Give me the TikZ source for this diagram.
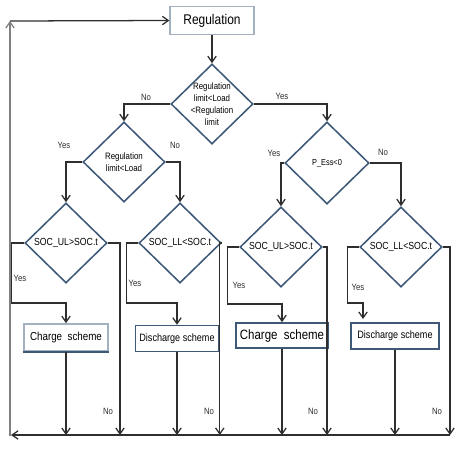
\documentclass[tikz,border=0pt]{standalone}
\usepackage{fontspec}
\setmainfont{Liberation Sans}[FakeStretch=0.85]
\usetikzlibrary{arrows.meta}
\usetikzlibrary{shapes.geometric}
\definecolor{boxline}{HTML}{3E5878}
\definecolor{regline}{HTML}{A3B0C0}
\definecolor{flowline}{HTML}{2E2E2E}

\begin{document}
\begin{tikzpicture}[x=0.025cm, y=-0.025cm,
    >={Straight Barb[length=1.5mm,width=2.1mm]},
    flow/.style={draw=flowline, line width=0.9pt},
    decision/.style={diamond, draw=boxline, line width=1.1pt, inner sep=0pt,
      minimum width=2.05cm, minimum height=2cm},
    scheme/.style={rectangle, draw=boxline, line width=1pt, inner sep=0pt,
      minimum height=0.65cm},
    answer/.style={font=\fontsize{6.5}{7.5}\selectfont, text=flowline}]
      \useasboundingbox (0, 0) rectangle (465, 455);

      % start box
      \node[rectangle, draw=regline, line width=0.8pt, minimum width=2.1cm, minimum height=0.68cm,
        font=\fontsize{10}{12}\selectfont] (reg) at (212, 20.5) {Regulation};

      % decisions
      \node[decision, label={[align=center, font=\fontsize{6.6}{8.5}\selectfont]center:Regulation\\limit<Load\\<Regulation\\limit}] (d0) at (212, 104) {};
      \node[decision, label={[align=center, font=\fontsize{6.6}{8.5}\selectfont]center:Regulation\\limit<Load}] (d1) at (124, 162) {};
      \node[decision, minimum width=2.1cm, minimum height=2.05cm, label={[font=\fontsize{6.2}{7}\selectfont]center:P\_Ess<0}] (d2) at (327, 163) {};
      \node[decision, label={[font=\fontsize{7.3}{9}\selectfont]center:SOC\_UL>SOC.t}] (d3) at (66, 243) {};
      \node[decision, label={[font=\fontsize{7.3}{9}\selectfont]center:SOC\_LL<SOC.t}] (d4) at (180, 243) {};
      \node[decision, label={[font=\fontsize{7.3}{9}\selectfont]center:SOC\_UL>SOC.t}] (d5) at (281, 247) {};
      \node[decision, label={[font=\fontsize{7.3}{9}\selectfont]center:SOC\_LL<SOC.t}] (d6) at (401, 247) {};

      % schemes
      \node[scheme, draw=regline, minimum width=2.1cm, minimum height=0.68cm,
        font=\fontsize{8.2}{10}\selectfont] (charge1) at (66, 337.5) {Charge\ \ scheme};
      \draw[boxline, line width=1.3pt] (charge1.south west) -- (charge1.south east);
      \node[scheme, minimum width=2.08cm, font=\fontsize{7.6}{9}\selectfont] (discharge1) at (177, 338.5) {Discharge scheme};
      \node[scheme, minimum width=2.3cm, minimum height=0.63cm, font=\fontsize{9.6}{11}\selectfont] (charge2) at (282, 335.5) {Charge\ \ scheme};
      \node[scheme, minimum width=2.2cm, font=\fontsize{7.6}{9}\selectfont] (discharge2) at (395, 336) {Discharge scheme};

      % corner points
      \coordinate (br) at (450, 435);
      \coordinate (bl) at (11, 435);
      \coordinate (tl) at (10, 21);
      \coordinate (e6) at (363, 319);

      % connectors
      \draw[flow, ->] (reg) -- (d0);
      \draw[flow, ->] (d0.west) -| (d1.north);
      \draw[flow, ->] (d0.east) -| (d2.north);
      \draw[flow, ->] (d1.west) -| (d3.north);
      \draw[flow, ->] (d1.east) -| (d4.north);
      \draw[flow, ->] (d2.west) -| (d5.north);
      \draw[flow, ->] (d2.east) -| (d6.north);

      \draw[flow, ->] (d3.west) -- ++(-13, 0) |- (40, 303) -| (charge1.north);
      \draw[flow, ->] (d4.west) -- ++(-12, 0) |- (150, 303) -| (discharge1.north);
      \draw[flow, ->] (d5.west) -- ++(-12, 0) |- (250, 304) -| (charge2.north);
      \draw[flow, ->] (d6.west) -- ++(-12, 0) |- (355, 303) -| (e6);

      \draw[flow, ->] (d3.east) -| (120, 435);
      \draw[flow, ->] (d4.east) -- ++(-2, 0) -- ++(0, 192);
      \draw[flow, ->] (d5.east) -| (327, 435);
      \draw[flow, ->] (d6.east) -| (br);

      \draw[flow, ->] (charge1) -- (charge1 |- br);
      \draw[flow, ->] (discharge1) -- (discharge1 |- br);
      \draw[flow, ->] (charge2) -- (charge2 |- br);
      \draw[flow, ->] (discharge2) -- (discharge2 |- br);

      % return path
      \draw[flow, ->] (br) -- (bl);
      \draw[draw=gray, line width=0.9pt, ->] (10, 436) -- (tl);
      \draw[flow, ->] (tl) -- (reg.west);

      % yes / no
      \node[answer] (n0) at (146, 97) {No};
      \node[answer] (y0) at (282, 96) {Yes};
      \node[answer] (y1) at (64, 145) {Yes};
      \node[answer] (n1) at (175, 145) {No};
      \node[answer] (y2) at (274, 153) {Yes};
      \node[answer] (n2) at (383, 152) {No};
      \node[answer] (y3) at (20, 278) {Yes};
      \node[answer] (y4) at (135, 283) {Yes};
      \node[answer] (y5) at (239, 285) {Yes};
      \node[answer] (y6) at (358, 287) {Yes};
      \node[answer] (n3) at (108, 411) {No};
      \node[answer] (n4) at (209, 411) {No};
      \node[answer] (n5) at (313, 411) {No};
      \node[answer] (n6) at (437, 411) {No};
    \end{tikzpicture}
\end{document}
